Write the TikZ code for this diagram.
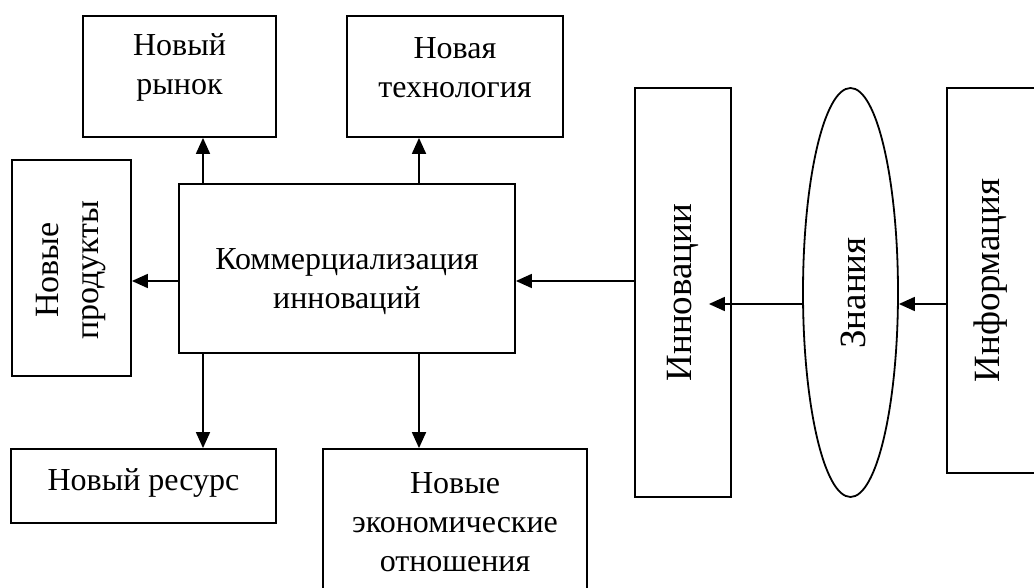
\documentclass[tikz,border=0pt]{standalone}
\usepackage{fontspec}
\setmainfont{Liberation Serif}
\usepackage{tikz}
\usetikzlibrary{shapes.geometric,arrows.meta,calc}

\begin{document}
\begin{tikzpicture}[x=1pt,y=-1pt,
  box/.style={draw,line width=1.8pt,inner sep=0pt},
  lbl/.style={align=center,font=\fontsize{32}{39}\selectfont,inner sep=0pt},
  big/.style={lbl,rotate=90,font=\fontsize{37}{44}\selectfont},
  arr/.style={line width=1.8pt,-{Triangle[length=16pt,width=14pt]}}]
\useasboundingbox (0,0) rectangle (1034,588);
\clip (0,0) rectangle (1034,588);

\node[box,minimum width=193pt,minimum height=121pt] (rynok) at (179.5,76.5) {};
\node[box,minimum width=216pt,minimum height=121pt] (tech) at (455,76.5) {};
\node[box,minimum width=119pt,minimum height=216pt] (prod) at (71.5,268) {};
\node[box,minimum width=336pt,minimum height=169pt] (comm) at (347,268.5) {};
\node[box,minimum width=265pt,minimum height=74pt] (resurs) at (143.5,486) {};
\node[box,minimum width=264pt,minimum height=152pt] (ekon) at (455,525) {};
\node[box,minimum width=96pt,minimum height=409pt] (innov) at (683,292.5) {};
\node[box,ellipse,minimum width=95pt,minimum height=409pt] (znan) at (850.5,292.5) {};
\node[box,minimum width=88pt,minimum height=385pt] (info) at (991,280.5) {};

\node[lbl] (rynokT) at (179.5,67.5) {Новый\\рынок};
\node[lbl] (techT) at (455,67.5) {Новая\\технология};
\node[lbl,rotate=90,font=\fontsize{34}{40}\selectfont] (prodT) at (71.5,270) {Новые\\продукты};
\node[lbl] (commT) at (347,282) {Коммерциализация\\инноваций};
\node[lbl] (resursT) at (143.5,483) {Новый ресурс};
\node[lbl] (ekonT) at (455,522) {Новые\\экономические\\отношения};
\node[big] (innovT) at (683,292.5) {Инновации};
\node[big] (znanT) at (853,293) {Знания};
\node[big] (infoT) at (991,280.5) {Информация};

\coordinate (xl) at (203,0);
\coordinate (xr) at (419,0);
\coordinate (ym) at (0,281);
\coordinate (yk) at (0,304);

\draw[arr] (xl |- comm.north) -- (xl |- rynok.south);
\draw[arr] (xr |- comm.north) -- (xr |- tech.south);
\draw[arr] (xl |- comm.south) -- (xl |- resurs.north);
\draw[arr] (xr |- comm.south) -- (xr |- ekon.north);
\draw[arr] (ym -| comm.west) -- (ym -| prod.east);
\draw[arr] (ym -| innov.west) -- (ym -| comm.east);
\draw[arr] (yk -| znan.west) -- ($(innov.east |- yk)+(-23,0)$);
\draw[arr] (yk -| info.west) -- (yk -| znan.east);

\end{tikzpicture}
\end{document}
